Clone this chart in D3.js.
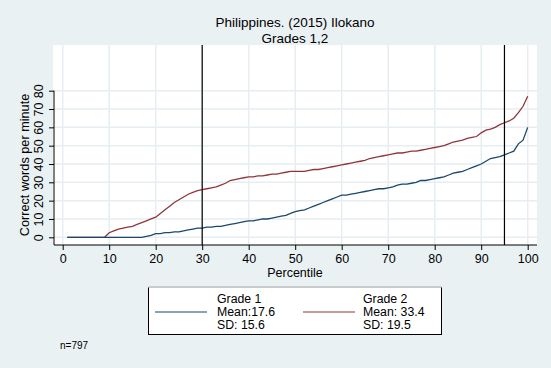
<!DOCTYPE html>
<html><head><meta charset="utf-8">
<script src="https://cdn.jsdelivr.net/npm/d3@7"></script>
<style>html,body{margin:0;padding:0;background:#eaf1f3;}svg{display:block;font-family:"Liberation Sans",Arial,sans-serif;}</style>
</head><body><svg id="c" width="551" height="368"></svg>
<script>
const percentiles = d3.range(1, 101);
const grade1 = [0,0,0,0,0,0,0,0,0,0, 0,0,0,0,0,0,0,0.5,1,2,
  2,2.5,2.5,3,3,3.5,4,4.5,5,5, 5.5,5.5,6,6,6.5,7,7.5,8,8.5,9,
  9,9.5,10,10,10.5,11,11.5,12,13,14, 14.5,15,16,17,18,19,20,21,22,23,
  23,23.5,24,24.5,25,25.5,26,26.5,26.5,27, 27.5,28.5,29,29,29.5,30,31,31,31.5,32,
  32.5,33,34,35,35.5,36,37,38,39,40, 41.5,43,43.5,44,45,46,47,51,53,60];
const grade2 = [0,0,0,0,0,0,0,0,0,2.5, 3.5,4.5,5,5.5,6,7,8,9,10,11,
  13,15,17,19,20.5,22,23.5,24.5,25.5,26, 26.5,27,27.5,28.5,29.5,31,31.5,32,32.5,33,
  33,33.5,33.5,34,34.5,34.5,35,35.5,36,36, 36,36,36.5,37,37,37.5,38,38.5,39,39.5,
  40,40.5,41,41.5,42,43,43.5,44,44.5,45, 45.5,46,46,46.5,47,47,47.5,48,48.5,49,
  49.5,50,51,52,52.5,53,54,54.5,55,57, 58.5,59,60,61.5,62.5,63.5,65,68,71.5,77];
const xTicks = [0,10,20,30,40,50,60,70,80,90,100];
const yTicks = [0,10,20,30,40,50,60,70,80];
const refLines = [30, 95];
const legendItems = [
  {lines:["Grade 1","Mean:17.6","SD: 15.6"], color:"#1a476f"},
  {lines:["Grade 2","Mean: 33.4","SD: 19.5"], color:"#90353b"}
];
const titleText = "Philippines. (2015) Ilokano";
const subtitleText = "Grades 1,2";
const nText = "n=797";

const svg = d3.select("#c");
svg.append("rect").attr("width",551).attr("height",368).attr("fill","#eaf1f3");
const P = {l:53, r:537, t:45, b:245};
const x = d3.scaleLinear().domain([0,100]).range([62.7,527.7]);
const y = d3.scaleLinear().domain([0,80]).range([237.3,90.7]);

svg.append("rect").attr("x",P.l).attr("y",P.t).attr("width",P.r-P.l).attr("height",P.b-P.t).attr("fill","#fff");

// grid
svg.append("g").selectAll("line").data(xTicks).join("line")
  .attr("x1",d=>x(d)).attr("x2",d=>x(d)).attr("y1",P.t).attr("y2",P.b)
  .attr("stroke","#e6eef1").attr("stroke-width",1.5);
svg.append("g").selectAll("line").data(yTicks).join("line")
  .attr("x1",P.l).attr("x2",P.r).attr("y1",d=>y(d)).attr("y2",d=>y(d))
  .attr("stroke","#e6eef1").attr("stroke-width",1.5);

// lines
const line = d3.line().x((d,i)=>x(percentiles[i])).y(d=>y(d));
svg.append("path").datum(grade2).attr("d",line).attr("fill","none").attr("stroke","#90353b").attr("stroke-width",1.3);
svg.append("path").datum(grade1).attr("d",line).attr("fill","none").attr("stroke","#1a476f").attr("stroke-width",1.3);

// reference lines
svg.append("g").selectAll("line").data(refLines).join("line")
  .attr("x1",d=>x(d)).attr("x2",d=>x(d)).attr("y1",P.t).attr("y2",P.b)
  .attr("stroke","#000").attr("stroke-width",1.2);

// x axis
const xa = svg.append("g").attr("transform",`translate(0,${P.b})`)
  .call(d3.axisBottom(x).tickValues(xTicks).tickSize(5).tickPadding(4));
xa.select(".domain").remove();
xa.append("line").attr("x1",P.l+1).attr("x2",P.r).attr("stroke","#000");
xa.selectAll(".tick line").attr("stroke","#000");
xa.selectAll("text").attr("font-size",12.5).attr("font-family","Liberation Sans, Arial").attr("fill","#000");

// y axis
const ya = svg.append("g").attr("transform",`translate(54,0)`)
  .call(d3.axisLeft(y).tickValues(yTicks).tickSize(5).tickPadding(0));
ya.select(".domain").remove();
ya.append("line").attr("y1",y(80)).attr("y2",P.b).attr("stroke","#000");
ya.selectAll(".tick line").attr("stroke","#000");
ya.selectAll(".tick text").attr("dy",0).attr("text-anchor","middle")
  .attr("transform","rotate(-90)").attr("x",0).attr("y",-11)
  .attr("font-size",12.5).attr("font-family","Liberation Sans, Arial").attr("fill","#000");

// axis titles
svg.append("text").attr("x",295).attr("y",277).attr("text-anchor","middle").attr("font-size",12.5).text("Percentile");
svg.append("text").attr("transform",`translate(28.5,${(y(0)+y(80))/2+1}) rotate(-90)`).attr("text-anchor","middle").attr("font-size",12.7).text("Correct words per minute");

// titles
svg.append("text").attr("x",295).attr("y",27).attr("text-anchor","middle").attr("font-size",13.5).text(titleText);
svg.append("text").attr("x",295).attr("y",42.5).attr("text-anchor","middle").attr("font-size",13.5).text(subtitleText);

// legend
const lg = svg.append("g");
lg.append("rect").attr("x",148.5).attr("y",287.5).attr("width",293).attr("height",47).attr("fill","#fff").attr("stroke","#000").attr("stroke-width",1);
lg.append("line").attr("x1",148.5).attr("x2",441.5).attr("y1",287).attr("y2",287).attr("stroke","#c8cbcc").attr("stroke-width",2);
const keyX = [155, 303], txtX = [217, 363];
legendItems.forEach((it,i)=>{
  lg.append("line").attr("x1",keyX[i]).attr("x2",keyX[i]+52).attr("y1",312).attr("y2",312).attr("stroke",it.color).attr("stroke-width",1.2);
  it.lines.forEach((s,j)=>{
    lg.append("text").attr("x",txtX[i]).attr("y",302.5+j*13).attr("font-size",12.3).text(s);
  });
});

svg.append("text").attr("x",60).attr("y",349).attr("font-size",10).text(nText);
</script></body></html>
